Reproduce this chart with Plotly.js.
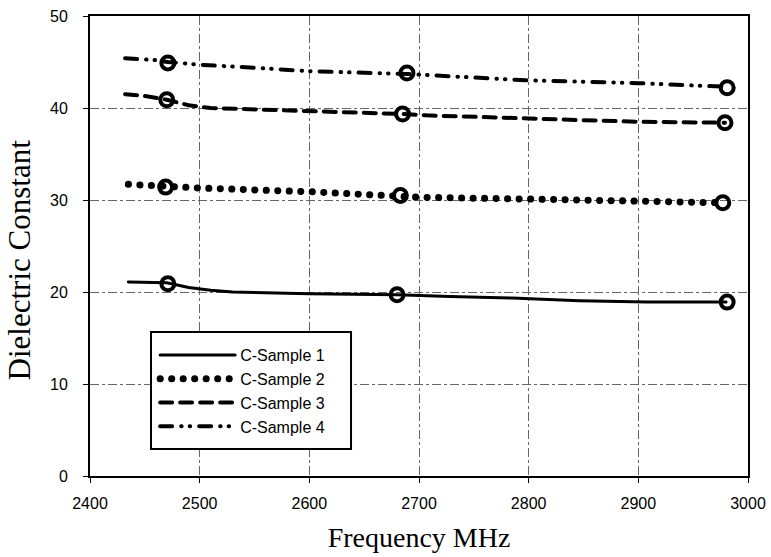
<!DOCTYPE html>
<html>
<head>
<meta charset="utf-8">
<script src="https://cdn.plot.ly/plotly-3.0.1.min.js"></script>
<style>
html,body{margin:0;padding:0;background:#fff;}
#chart{width:771px;height:557px;}
path.js-line{stroke-linecap:round !important;}
</style>
</head>
<body>
<div id="chart"></div>
<script>
// Line data
const s1Freq = [2435, 2470, 2490, 2510, 2530, 2600, 2680, 2728, 2785, 2846, 2908, 2980];
const s1Val  = [21.1, 21.0, 20.5, 20.2, 20.0, 19.8, 19.7, 19.5, 19.35, 19.05, 18.9, 18.9];
const s2Freq = [2435, 2470, 2500, 2600, 2683, 2700, 2800, 2900, 2977];
const s2Val  = [31.7, 31.4, 31.3, 30.9, 30.5, 30.3, 30.1, 29.9, 29.7];
const s3Freq = [2432, 2450, 2470, 2490, 2510, 2600, 2685, 2707, 2800, 2900, 2979];
const s3Val  = [41.5, 41.3, 40.9, 40.3, 40.0, 39.7, 39.35, 39.2, 38.9, 38.5, 38.4];
const s4Freq = [2432, 2460, 2471, 2500, 2560, 2600, 2689, 2800, 2900, 2981];
const s4Val  = [45.4, 45.2, 45.0, 44.7, 44.3, 44.0, 43.7, 43.0, 42.7, 42.3];
// Measured points (open circles)
const m1Freq = [2471, 2680, 2981]; const m1Val = [20.9, 19.7, 18.9];
const m2Freq = [2469, 2683, 2977]; const m2Val = [31.4, 30.5, 29.7];
const m3Freq = [2470, 2685, 2979]; const m3Val = [40.9, 39.35, 38.4];
const m4Freq = [2471, 2689, 2981]; const m4Val = [44.9, 43.8, 42.2];
const names = ['C-Sample 1', 'C-Sample 2', 'C-Sample 3', 'C-Sample 4'];
const xTicks = [2400, 2500, 2600, 2700, 2800, 2900, 3000];
const yTicks = [0, 10, 20, 30, 40, 50];

const lineStyles = [
  {width: 3, dash: 'solid'},
  {width: 7, dash: '0.1px,11.4px'},
  {width: 4, dash: '12px,8px'},
  {width: 4, dash: '12px,9px,0.5px,8px,0.5px,9px'}
];
const lines = [[s1Freq, s1Val], [s2Freq, s2Val], [s3Freq, s3Val], [s4Freq, s4Val]];
const marks = [[m1Freq, m1Val], [m2Freq, m2Val], [m3Freq, m3Val], [m4Freq, m4Val]];

const traces = [];
lines.forEach((d, i) => {
  traces.push({x: d[0], y: d[1], type: 'scatter', mode: 'lines', name: names[i],
    line: {color: '#000', width: lineStyles[i].width, dash: lineStyles[i].dash}});
});
marks.forEach((d, i) => {
  traces.push({x: d[0], y: d[1], type: 'scatter', mode: 'markers', showlegend: false,
    marker: {symbol: 'circle-open', size: 13, color: '#000', line: {width: 4, color: '#000'}}});
});

const tickFont = {family: 'Liberation Sans, Arial, sans-serif', size: 16, color: '#000'};
const layout = {
  width: 771, height: 557,
  margin: {l: 90, r: 23, t: 16, b: 81},
  paper_bgcolor: '#fff', plot_bgcolor: '#fff',
  showlegend: true,
  legend: {x: 0.099, y: 0.30, xanchor: 'left', yanchor: 'top',
    borderwidth: 0, bgcolor: 'rgba(0,0,0,0)',
    font: {family: 'Liberation Sans, Arial, sans-serif', size: 16, color: '#000'},
    itemwidth: 75, tracegroupgap: 0},
  shapes: [{
    type: 'rect', xref: 'paper', yref: 'paper', layer: 'above',
    x0: 0.0927, x1: 0.3967, y0: 0.0587, y1: 0.313,
    line: {color: '#000', width: 2}, fillcolor: '#fff'
  }],
  xaxis: {
    range: [2400, 3000], tickvals: xTicks,
    showgrid: true, gridcolor: '#666', gridwidth: 1, griddash: 'dashdot',
    showline: true, linecolor: '#000', linewidth: 2, mirror: true,
    ticks: 'outside', ticklen: 5, tickcolor: '#000', zeroline: false,
    ticklabelstandoff: 7,
    tickfont: tickFont,
    title: {text: 'Frequency MHz', standoff: 16,
      font: {family: 'Liberation Serif, Times New Roman, serif', size: 28, color: '#000'}}
  },
  yaxis: {
    range: [0, 50], tickvals: yTicks,
    showgrid: true, gridcolor: '#666', gridwidth: 1, griddash: 'dashdot',
    showline: true, linecolor: '#000', linewidth: 2, mirror: true,
    ticks: 'outside', ticklen: 5, tickcolor: '#000', zeroline: false,
    ticklabelstandoff: 12,
    tickfont: tickFont
  },
  annotations: [{
    text: 'Dielectric Constant', textangle: -90, showarrow: false,
    xref: 'paper', yref: 'paper', x: -0.107, y: 0.47, xanchor: 'center', yanchor: 'middle',
    font: {family: 'Liberation Serif, Times New Roman, serif', size: 31, color: '#000'}
  }]
};
Plotly.newPlot('chart', traces, layout, {displayModeBar: false, staticPlot: true});
</script>
</body>
</html>
